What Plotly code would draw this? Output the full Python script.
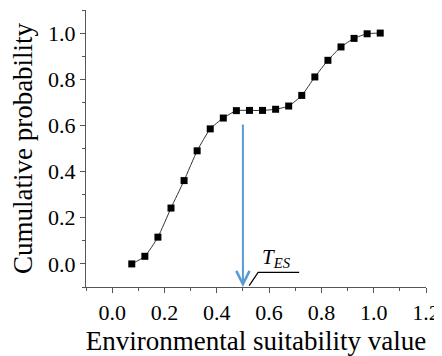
import plotly.graph_objects as go

# Data
suitability = [0.075, 0.125, 0.175, 0.225, 0.275, 0.325, 0.375, 0.425, 0.475, 0.525,
               0.575, 0.625, 0.675, 0.725, 0.775, 0.825, 0.875, 0.925, 0.975, 1.025]
cum_prob = [0.0, 0.033, 0.116, 0.242, 0.361, 0.49, 0.585, 0.632, 0.664, 0.665,
            0.665, 0.67, 0.684, 0.73, 0.81, 0.882, 0.94, 0.977, 0.997, 1.0]
x_ticks = [0.0, 0.2, 0.4, 0.6, 0.8, 1.0, 1.2]
y_ticks = [0.0, 0.2, 0.4, 0.6, 0.8, 1.0]
minor_ticks = [-0.1, 0.1, 0.3, 0.5, 0.7, 0.9, 1.1]
threshold = 0.5
arrow_top = 0.61
leader_x = [0.524, 0.558, 0.715]
leader_y = [-0.094, -0.037, -0.037]

FONT = "'Liberation Serif'"
AX = "#555555"

fig = go.Figure()
fig.add_trace(go.Scatter(
    x=suitability, y=cum_prob, mode="lines+markers",
    line=dict(color="#333333", width=1, shape="spline", smoothing=0.5),
    marker=dict(symbol="square", size=7, color="black"),
    showlegend=False, hoverinfo="skip"))
fig.add_trace(go.Scatter(
    x=leader_x, y=leader_y, mode="lines",
    line=dict(color="black", width=1.2), showlegend=False, hoverinfo="skip"))

fig.add_annotation(x=threshold, y=-0.1, ax=threshold, ay=arrow_top,
                   xref="x", yref="y", axref="x", ayref="y",
                   showarrow=True, arrowhead=5, arrowsize=1.3, arrowwidth=2,
                   arrowcolor="#5B9BD5", text="")
fig.add_annotation(x=0.565, y=-0.04, xref="x", yref="y", xanchor="left", yanchor="bottom",
                   showarrow=False,
                   text="<i>T</i><sub><i>ES</i></sub>",
                   font=dict(family=FONT, size=21, color="black"))

axis_common = dict(showline=True, linecolor=AX, linewidth=1.3, ticks="outside",
                   tickcolor=AX, ticklen=5, tickwidth=1.2, showgrid=False, zeroline=False,
                   mirror=False, automargin=False,
                   tickfont=dict(family=FONT, size=22, color="black"))

fig.update_xaxes(range=[-0.1, 1.2], tickvals=x_ticks, ticktext=[f"{v:.1f}" for v in x_ticks],
                 title=dict(text="Environmental suitability value",
                            font=dict(family=FONT, size=27, color="black")),
                 minor=dict(tickvals=minor_ticks, ticks="outside", ticklen=3, tickcolor=AX,
                            tickwidth=1, showgrid=False),
                 **axis_common)
fig.update_yaxes(range=[-0.1, 1.1], tickvals=y_ticks, ticktext=[f"{v:.1f}" for v in y_ticks],
                 title=dict(text="Cumulative probability",
                            font=dict(family=FONT, size=27, color="black")),
                 minor=dict(tickvals=minor_ticks, ticks="outside", ticklen=3, tickcolor=AX,
                            tickwidth=1, showgrid=False),
                 **axis_common)

fig.update_layout(width=434, height=348, margin=dict(l=78, r=16, t=2, b=69),
                  plot_bgcolor="white", paper_bgcolor="white",
                  font=dict(family=FONT, color="black"))

fig.write_html("out.html")
